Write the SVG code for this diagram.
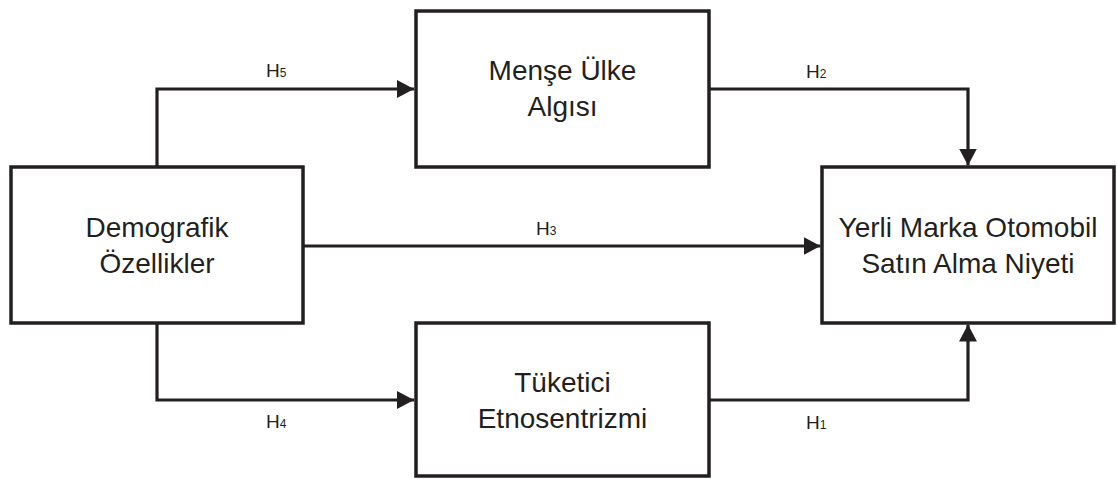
<svg xmlns="http://www.w3.org/2000/svg" width="1117" height="479" viewBox="0 0 1117 479">
  <style>
    .box { fill: #ffffff; stroke: #231f20; stroke-width: 3.5; }
    .lbl { font-family: "Liberation Sans", Arial, sans-serif; font-size: 28px; fill: #231f20; text-anchor: middle; }
    .hyp { font-family: "Liberation Sans", Arial, sans-serif; font-size: 19px; fill: #231f20; }
    .sub { font-size: 12px; }
    .link { fill: none; stroke: #231f20; stroke-width: 3.2; marker-end: url(#head); }
  </style>
  <defs>
    <marker id="head" markerUnits="userSpaceOnUse" markerWidth="17" markerHeight="18" refX="17" refY="9" orient="auto">
      <path d="M0,0 L17,9 L0,18 Z" fill="#231f20"/>
    </marker>
  </defs>

  <rect width="1117" height="479" fill="#ffffff"/>

  <!-- connectors -->
  <g id="connectors">
    <path class="link" d="M157,167 V89 H414"/>
    <path class="link" d="M709,89 H968 V165.5"/>
    <path class="link" d="M303,246 H820.5"/>
    <path class="link" d="M157,323 V400 H414"/>
    <path class="link" d="M709,400 H968 V324.5"/>
    <text class="hyp" x="266" y="77">H<tspan class="sub">5</tspan></text>
    <text class="hyp" x="806" y="78">H<tspan class="sub">2</tspan></text>
    <text class="hyp" x="536" y="235">H<tspan class="sub">3</tspan></text>
    <text class="hyp" x="266" y="428">H<tspan class="sub">4</tspan></text>
    <text class="hyp" x="806" y="429">H<tspan class="sub">1</tspan></text>
  </g>

  <!-- nodes -->
  <g id="demografik">
    <rect class="box" x="11" y="167" width="292" height="156"/>
    <text class="lbl" x="157" y="237">Demografik</text>
    <text class="lbl" x="157" y="273">Özellikler</text>
  </g>
  <g id="mense">
    <rect class="box" x="416" y="11" width="293" height="156"/>
    <text class="lbl" x="562.5" y="80">Menşe Ülke</text>
    <text class="lbl" x="562.5" y="116">Algısı</text>
  </g>
  <g id="etnosentrizm">
    <rect class="box" x="416" y="323" width="293" height="153"/>
    <text class="lbl" x="562.5" y="392">Tüketici</text>
    <text class="lbl" x="562.5" y="428">Etnosentrizmi</text>
  </g>
  <g id="satin-alma">
    <rect class="box" x="822" y="167" width="292" height="156"/>
    <text class="lbl" x="968" y="237">Yerli Marka Otomobil</text>
    <text class="lbl" x="968" y="273">Satın Alma Niyeti</text>
  </g>
</svg>
